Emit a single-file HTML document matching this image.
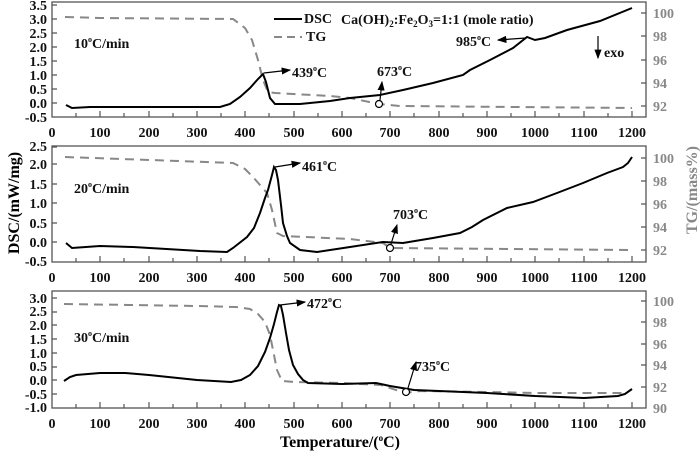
<!DOCTYPE html>
<html><head><meta charset="utf-8"><style>
body{margin:0;background:#fff}
svg{display:block}
text{font-family:"Liberation Serif",serif;font-weight:bold}
.l{font-size:14px;fill:#111;text-anchor:end}
.r{font-size:14px;fill:#888}
.x{font-size:14px;fill:#111;text-anchor:middle}
.a{font-size:14px;fill:#111}
.box{fill:none;stroke:#555;stroke-width:1.3}
.dsc{fill:none;stroke:#000;stroke-width:2}
.tg{fill:none;stroke:#888;stroke-width:2;stroke-dasharray:9,6}
.t{stroke:#555;stroke-width:1.2}
.ar{stroke:#000;stroke-width:1.2;fill:none}
</style></head><body>
<svg width="700" height="453" viewBox="0 0 700 453">
<defs><marker id="m" markerWidth="8" markerHeight="6" refX="7" refY="3" orient="auto"><path d="M0,0L8,3L0,6z" fill="#000"/></marker></defs>

<!-- Panel 1 -->
<rect class="box" x="52" y="2" width="594" height="115"/>
<g class="t">
<path d="M76,117v-4M100,117v-6M124,117v-4M149,117v-6M173,117v-4M197,117v-6M221,117v-4M245,117v-6M269,117v-4M294,117v-6M318,117v-4M342,117v-6M366,117v-4M390,117v-6M414,117v-4M439,117v-6M463,117v-4M487,117v-6M511,117v-4M535,117v-6M559,117v-4M584,117v-6M608,117v-4M632,117v-6"/>
<path d="M52,5h5M52,19h5M52,33h5M52,47h5M52,61h5M52,75h5M52,89h5M52,103h5"/>
<path d="M646,13h-5M646,36h-5M646,60h-5M646,83h-5M646,106h-5"/>
</g>
<g class="l"><text x="47" y="10">3.5</text><text x="47" y="24">3.0</text><text x="47" y="38">2.5</text><text x="47" y="52">2.0</text><text x="47" y="66">1.5</text><text x="47" y="80">1.0</text><text x="47" y="94">0.5</text><text x="47" y="108">0.0</text><text x="47" y="122">-0.5</text></g>
<g class="r"><text x="653" y="18">100</text><text x="653" y="41">98</text><text x="653" y="65">96</text><text x="653" y="88">94</text><text x="653" y="111">92</text></g>
<g class="x"><text x="52" y="137">0</text><text x="100" y="137">100</text><text x="149" y="137">200</text><text x="197" y="137">300</text><text x="245" y="137">400</text><text x="294" y="137">500</text><text x="342" y="137">600</text><text x="390" y="137">700</text><text x="439" y="137">800</text><text x="487" y="137">900</text><text x="535" y="137">1000</text><text x="584" y="137">1100</text><text x="632" y="137">1200</text></g>
<polyline class="tg" points="65,17 100,18 233,19 245,28 252,40 258,60 263,80 268,92 275,93 330,96 350,98 379,104 400,106 632,108"/>
<polyline class="dsc" points="66,105 72,108 90,107 220,107 230,104 240,97 250,88 258,79 263,74 266,82 270,98 275,104 300,104 330,101 350,98 380,95 403,90 433,83 463,75 470,70 490,60 513,48 527,37 535,40 545,38 567,30 600,21 632,8"/>
<circle cx="379" cy="104" r="3.5" fill="#fff" stroke="#000" stroke-width="1.2"/>
<line class="ar" x1="380" y1="100" x2="382" y2="82" marker-end="url(#m)"/>
<text class="a" x="377" y="76">673<tspan dy="-6" font-size="8">o</tspan><tspan dy="6">C</tspan></text>
<line class="ar" x1="264" y1="73" x2="290" y2="70" marker-end="url(#m)"/>
<text class="a" x="292" y="77">439<tspan dy="-6" font-size="8">o</tspan><tspan dy="6">C</tspan></text>
<line class="ar" x1="526" y1="38" x2="498" y2="40" marker-end="url(#m)"/>
<text class="a" x="456" y="46">985<tspan dy="-6" font-size="8">o</tspan><tspan dy="6">C</tspan></text>
<line class="ar" x1="598" y1="36" x2="598" y2="58" marker-end="url(#m)"/>
<text class="a" x="604" y="57">exo</text>
<line x1="274" y1="19" x2="302" y2="19" stroke="#000" stroke-width="2"/>
<text class="a" x="304" y="23">DSC</text>
<line x1="274" y1="37" x2="302" y2="37" class="tg" style="stroke-dasharray:8,5"/>
<text class="a" x="306" y="41">TG</text>
<text class="a" x="341" y="24">Ca(OH)<tspan dy="3" font-size="9">2</tspan><tspan dy="-3">:Fe</tspan><tspan dy="3" font-size="9">2</tspan><tspan dy="-3">O</tspan><tspan dy="3" font-size="9">3</tspan><tspan dy="-3">=1:1 (mole ratio)</tspan></text>
<text class="a" x="74" y="48">10<tspan dy="-6" font-size="8">o</tspan><tspan dy="6">C/min</tspan></text>

<!-- Panel 2 -->
<rect class="box" x="52" y="146" width="594" height="116"/>
<g class="t">
<path d="M76,262v-4M100,262v-6M124,262v-4M149,262v-6M173,262v-4M197,262v-6M221,262v-4M245,262v-6M269,262v-4M294,262v-6M318,262v-4M342,262v-6M366,262v-4M390,262v-6M414,262v-4M439,262v-6M463,262v-4M487,262v-6M511,262v-4M535,262v-6M559,262v-4M584,262v-6M608,262v-4M632,262v-6"/>
<path d="M52,147h5M52,164h5M52,184h5M52,203h5M52,223h5M52,242h5"/>
<path d="M646,158h-5M646,181h-5M646,204h-5M646,227h-5M646,250h-5"/>
</g>
<g class="l"><text x="47" y="151">2.5</text><text x="47" y="169">2.0</text><text x="47" y="189">1.5</text><text x="47" y="208">1.0</text><text x="47" y="228">0.5</text><text x="47" y="247">0.0</text><text x="47" y="266">-0.5</text></g>
<g class="r"><text x="653" y="163">100</text><text x="653" y="186">98</text><text x="653" y="209">96</text><text x="653" y="232">94</text><text x="653" y="255">92</text></g>
<g class="x"><text x="52" y="282">0</text><text x="100" y="282">100</text><text x="149" y="282">200</text><text x="197" y="282">300</text><text x="245" y="282">400</text><text x="294" y="282">500</text><text x="342" y="282">600</text><text x="390" y="282">700</text><text x="439" y="282">800</text><text x="487" y="282">900</text><text x="535" y="282">1000</text><text x="584" y="282">1100</text><text x="632" y="282">1200</text></g>
<polyline class="tg" points="65,157 150,160 233,163 245,169 253,177 260,185 267,193 272,210 277,233 283,236 350,239 383,243 390,248 632,250"/>
<polyline class="dsc" points="66,243 72,248 100,246 133,247 200,251 227,252 233,248 247,237 254,228 260,213 265,198 268,190 272,175 274,167 276,170 278,180 281,205 283,223 287,236 290,243 300,250 317,252 350,247 383,242 403,243 433,238 460,233 472,227 483,220 507,208 533,202 557,193 583,183 607,173 623,167 628,163 632,157"/>
<circle cx="390" cy="248" r="3.5" fill="#fff" stroke="#000" stroke-width="1.2"/>
<line class="ar" x1="391" y1="244" x2="397" y2="225" marker-end="url(#m)"/>
<text class="a" x="393" y="219">703<tspan dy="-6" font-size="8">o</tspan><tspan dy="6">C</tspan></text>
<line class="ar" x1="275" y1="167" x2="300" y2="163" marker-end="url(#m)"/>
<text class="a" x="302" y="171">461<tspan dy="-6" font-size="8">o</tspan><tspan dy="6">C</tspan></text>
<text class="a" x="74" y="193">20<tspan dy="-6" font-size="8">o</tspan><tspan dy="6">C/min</tspan></text>

<!-- Panel 3 -->
<rect class="box" x="52" y="291" width="594" height="117"/>
<g class="t">
<path d="M76,408v-4M100,408v-6M124,408v-4M149,408v-6M173,408v-4M197,408v-6M221,408v-4M245,408v-6M269,408v-4M294,408v-6M318,408v-4M342,408v-6M366,408v-4M390,408v-6M414,408v-4M439,408v-6M463,408v-4M487,408v-6M511,408v-4M535,408v-6M559,408v-4M584,408v-6M608,408v-4M632,408v-6"/>
<path d="M52,298h5M52,312h5M52,325h5M52,339h5M52,353h5M52,367h5M52,380h5M52,394h5"/>
<path d="M646,301h-5M646,322h-5M646,344h-5M646,365h-5M646,387h-5"/>
</g>
<g class="l"><text x="47" y="303">3.0</text><text x="47" y="316">2.5</text><text x="47" y="330">2.0</text><text x="47" y="344">1.5</text><text x="47" y="358">1.0</text><text x="47" y="371">0.5</text><text x="47" y="385">0.0</text><text x="47" y="399">-0.5</text><text x="47" y="412">-1.0</text></g>
<g class="r"><text x="653" y="306">100</text><text x="653" y="327">98</text><text x="653" y="349">96</text><text x="653" y="370">94</text><text x="653" y="392">92</text><text x="653" y="413">90</text></g>
<g class="x"><text x="52" y="428">0</text><text x="100" y="428">100</text><text x="149" y="428">200</text><text x="197" y="428">300</text><text x="245" y="428">400</text><text x="294" y="428">500</text><text x="342" y="428">600</text><text x="390" y="428">700</text><text x="439" y="428">800</text><text x="487" y="428">900</text><text x="535" y="428">1000</text><text x="584" y="428">1100</text><text x="632" y="428">1200</text></g>
<polyline class="tg" points="64,304 197,306 236,307 250,309 258,314 265,322 270,335 273,350 277,370 282,381 294,382 342,383 381,385 405,393 420,391 487,392 535,393 622,393"/>
<polyline class="dsc" points="64,381 70,377 76,375 100,373 125,373 149,375 197,380 231,382 241,380 250,375 258,366 265,352 270,338 274,324 277,312 279,305 281,306 283,315 286,333 289,350 293,365 298,374 303,380 308,383 342,384 376,383 390,386 414,390 439,391 487,393 535,396 560,397 584,398 618,396 625,394 632,389"/>
<circle cx="406" cy="392" r="3.5" fill="#fff" stroke="#000" stroke-width="1.2"/>
<line class="ar" x1="408" y1="388" x2="416" y2="362" marker-end="url(#m)"/>
<text class="a" x="415" y="371">735<tspan dy="-6" font-size="8">o</tspan><tspan dy="6">C</tspan></text>
<line class="ar" x1="280" y1="305" x2="305" y2="302" marker-end="url(#m)"/>
<text class="a" x="307" y="308">472<tspan dy="-6" font-size="8">o</tspan><tspan dy="6">C</tspan></text>
<text class="a" x="74" y="342">30<tspan dy="-6" font-size="8">o</tspan><tspan dy="6">C/min</tspan></text>

<text x="340" y="447" text-anchor="middle" font-size="16">Temperature/(<tspan dy="-6" font-size="9">o</tspan><tspan dy="6">C)</tspan></text>
<text transform="translate(19,203) rotate(-90)" text-anchor="middle" font-size="16">DSC/(mW/mg)</text>
<text transform="translate(697,190) rotate(-90)" text-anchor="middle" font-size="16" fill="#888">TG/(mass%)</text>
</svg>
</body></html>
